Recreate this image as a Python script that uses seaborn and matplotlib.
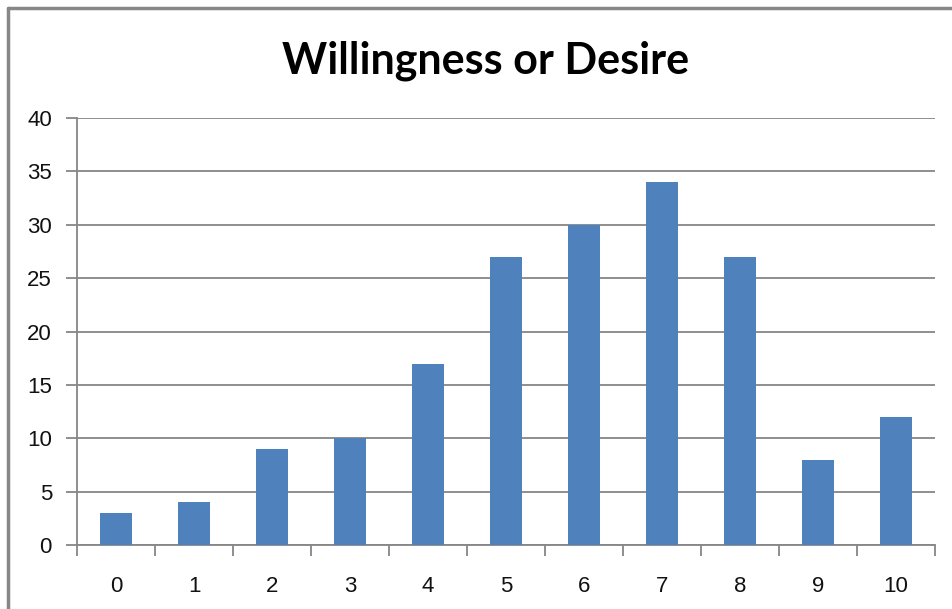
import matplotlib
matplotlib.use("Agg")
import matplotlib.pyplot as plt
import seaborn as sns
import pandas as pd
import numpy as np
from matplotlib.lines import Line2D

categories = ["0", "1", "2", "3", "4", "5", "6", "7", "8", "9", "10"]
values = [3, 4, 9, 10, 17, 27, 30, 34, 27, 8, 12]
yticks = [0, 5, 10, 15, 20, 25, 30, 35, 40]
title = "Willingness or Desire"

sns.set_theme(style="white")
plt.rcParams['font.family'] = ['Liberation Sans', 'DejaVu Sans']

fig = plt.figure(figsize=(9.52, 6.09), dpi=100)
ax = fig.add_axes([77/952, 64/609, (935-77)/952, (545-118)/609])

df = pd.DataFrame({"cat": categories, "val": values})
sns.barplot(data=df, x="cat", y="val", color="#4F81BD", saturation=1, width=0.41,
            linewidth=0, ax=ax, zorder=3)

ax.set_ylim(0, 40)
ax.set_xlim(-0.5, len(categories) - 0.5)
ax.set_yticks(yticks)
ax.set_yticklabels([str(v) for v in yticks], fontsize=16, color="#111111")
ax.set_xlabel("")
ax.set_ylabel("")
ax.grid(axis="y", color="#868686", linewidth=1.3, zorder=0)
ax.grid(axis="x", visible=False)

for s in ["top", "right"]:
    ax.spines[s].set_visible(False)
ax.spines["left"].set_color("#868686")
ax.spines["bottom"].set_color("#868686")
ax.spines["left"].set_linewidth(1.3)
ax.spines["bottom"].set_linewidth(1.3)

ax.tick_params(axis="x", which="major", length=0, labelsize=16, labelcolor="#111111", pad=22)
ax.set_xticks(np.arange(-0.5, len(categories)), minor=True)
ax.tick_params(axis="x", which="minor", length=8, width=1.3, color="#868686", direction="out", bottom=True)
ax.tick_params(axis="y", which="major", length=8, width=1.3, color="#868686", direction="out", left=True, pad=10)

fig.text(486/952, 1 - 61/609, title, ha="center", va="center", fontsize=31,
         fontweight="bold", family=["Lato", "DejaVu Sans"], color="black")

# frame border (left and top)
fig.add_artist(Line2D([8/952, 8/952], [0, 1 - 8/609], transform=fig.transFigure, color="#878787", linewidth=2.5))
fig.add_artist(Line2D([8/952, 1], [1 - 8/609, 1 - 8/609], transform=fig.transFigure, color="#878787", linewidth=2.5))

fig.savefig("out.png", dpi=100)
